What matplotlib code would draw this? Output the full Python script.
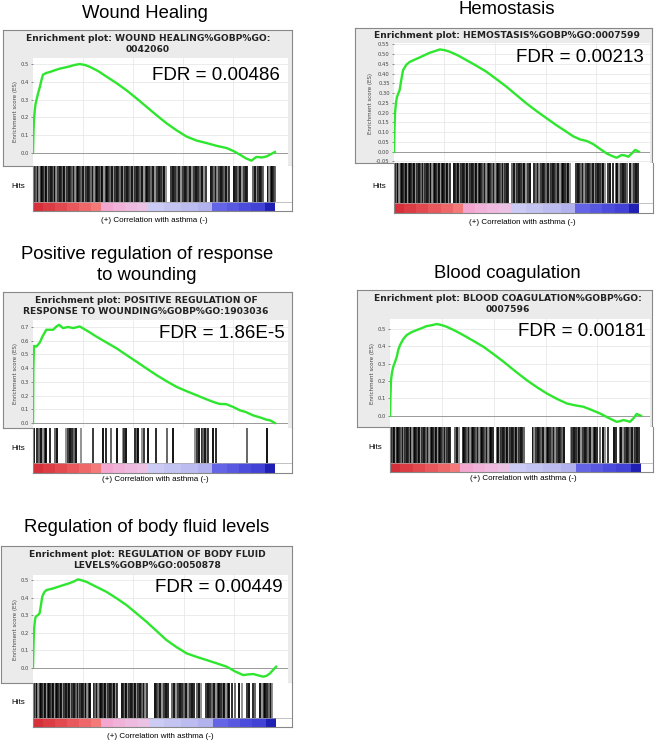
import matplotlib
matplotlib.use("Agg")
import matplotlib.pyplot as plt

W, H = 660, 742

# ---------------- data ----------------
titles = ["Wound Healing", "Hemostasis", "Positive regulation of response\nto wounding",
          "Blood coagulation", "Regulation of body fluid levels"]
plot_titles = ["Enrichment plot: WOUND HEALING%GOBP%GO:\n0042060",
               "Enrichment plot: HEMOSTASIS%GOBP%GO:0007599",
               "Enrichment plot: POSITIVE REGULATION OF\nRESPONSE TO WOUNDING%GOBP%GO:1903036",
               "Enrichment plot: BLOOD COAGULATION%GOBP%GO:\n0007596",
               "Enrichment plot: REGULATION OF BODY FLUID\nLEVELS%GOBP%GO:0050878"]
fdr_labels = ["FDR = 0.00486", "FDR = 0.00213", "FDR = 1.86E-5", "FDR = 0.00181", "FDR = 0.00449"]

# running enrichment score (rank position in per-mille of the ranked list, ES)
es1_x = [0, 2, 4, 8, 11, 20, 28, 35, 41, 55, 69, 90, 110, 130, 152, 172, 193, 214, 234, 270, 303, 345, 386, 428, 469, 510, 552, 593, 634, 676, 717, 760, 800, 830, 855, 880, 903, 915, 924, 945, 966, 985, 1000]
es1_y = [0, 0.12, 0.186, 0.25, 0.28, 0.33, 0.37, 0.41, 0.44, 0.45, 0.455, 0.465, 0.474, 0.48, 0.487, 0.495, 0.50, 0.495, 0.485, 0.46, 0.43, 0.393, 0.353, 0.307, 0.26, 0.213, 0.167, 0.128, 0.093, 0.07, 0.056, 0.04, 0.028, 0.01, -0.009, -0.03, -0.043, -0.03, -0.022, -0.025, -0.019, -0.005, 0.006]
es2_x = [0, 2, 4, 8, 12, 18, 23, 30, 37, 50, 64, 85, 105, 125, 146, 166, 187, 208, 228, 260, 296, 337, 377, 418, 459, 500, 541, 582, 623, 664, 704, 730, 759, 786, 813, 840, 868, 890, 909, 929, 945, 956, 970, 984, 1000]
es2_y = [0, 0.12, 0.196, 0.25, 0.28, 0.30, 0.316, 0.37, 0.418, 0.445, 0.46, 0.472, 0.483, 0.495, 0.507, 0.515, 0.524, 0.52, 0.512, 0.494, 0.469, 0.44, 0.41, 0.372, 0.333, 0.29, 0.247, 0.208, 0.171, 0.135, 0.102, 0.08, 0.063, 0.055, 0.039, 0.015, -0.009, -0.022, -0.031, -0.017, -0.02, -0.026, -0.01, 0.009, 0.0]
es3_x = [0, 1.4, 4, 14, 28, 39, 55, 83, 97, 108, 124, 145, 166, 193, 228, 262, 303, 345, 386, 428, 469, 510, 552, 593, 635, 676, 710, 745, 770, 800, 830, 855, 880, 910, 940, 966, 980, 1000]
es3_y = [0, 0.386, 0.562, 0.557, 0.587, 0.63, 0.68, 0.68, 0.704, 0.716, 0.692, 0.70, 0.692, 0.704, 0.668, 0.63, 0.588, 0.545, 0.496, 0.447, 0.398, 0.35, 0.305, 0.264, 0.232, 0.203, 0.178, 0.154, 0.14, 0.137, 0.115, 0.093, 0.08, 0.056, 0.04, 0.024, 0.02, 0.0]
es4_x = [0, 2, 4, 8, 13, 20, 27, 33, 40, 52, 66, 86, 106, 126, 146, 166, 186, 206, 226, 260, 292, 332, 372, 412, 452, 498, 544, 584, 624, 664, 704, 737, 770, 804, 837, 870, 903, 915, 930, 945, 956, 970, 983, 1000]
es4_y = [0, 0.12, 0.206, 0.25, 0.283, 0.31, 0.34, 0.38, 0.408, 0.44, 0.465, 0.482, 0.494, 0.505, 0.517, 0.522, 0.529, 0.523, 0.513, 0.49, 0.465, 0.432, 0.398, 0.356, 0.312, 0.258, 0.206, 0.166, 0.129, 0.098, 0.071, 0.06, 0.052, 0.033, 0.013, -0.012, -0.035, -0.032, -0.025, -0.03, -0.035, -0.015, 0.01, 0.0]
es5_x = [0, 2, 4, 8, 11, 20, 27, 33, 38, 46, 55, 82, 104, 124, 145, 165, 185, 202, 220, 260, 302, 344, 385, 426, 467, 508, 549, 590, 632, 673, 714, 756, 797, 830, 865, 885, 907, 930, 948, 962, 975, 988, 1000]
es5_y = [0, 0.13, 0.215, 0.27, 0.291, 0.30, 0.31, 0.36, 0.405, 0.43, 0.443, 0.452, 0.462, 0.471, 0.48, 0.49, 0.504, 0.498, 0.49, 0.462, 0.433, 0.396, 0.357, 0.31, 0.262, 0.21, 0.158, 0.118, 0.082, 0.062, 0.044, 0.025, 0.006, -0.02, -0.042, -0.038, -0.036, -0.045, -0.051, -0.045, -0.032, -0.012, 0.006]

# gene-set hit positions (per-mille of ranked list)
hits1 = [2,8,13,19,25,31,36,42,49,55,60,67,73,79,86,91,97,104,111,117,123,130,136,142,149,155,161,168,174,180,
         187,194,200,206,213,220,226,233,240,246,252,259,266,272,279,286,293,300,306,313,320,326,333,340,347,353,
         360,367,374,381,388,395,402,409,416,423,430,437,444,451,458,466,473,480,488,495,503,511,519,527,535,543,
         551,570,578,586,594,602,610,618,626,634,642,650,658,666,674,682,690,698,706,714,734,741,748,755,762,769,
         776,783,790,797,804,811,832,840,848,856,864,872,880,886,910,917,924,931,938,945,952,970,976,982,988,994,999]
hits2 = [1,6,11,17,22,28,33,39,44,50,56,61,67,72,78,83,89,95,100,106,111,117,122,128,134,139,145,150,156,162,167,
         173,178,184,190,195,201,206,212,218,223,229,245,251,257,263,269,275,281,287,293,299,305,311,317,323,329,
         335,341,347,353,359,365,371,377,383,389,395,401,407,413,419,425,431,437,443,449,455,461,467,483,490,497,
         504,511,518,525,532,539,546,553,572,579,586,593,600,607,614,621,628,635,642,649,656,663,670,677,684,691,
         698,705,712,719,742,749,756,763,770,777,784,791,798,805,812,819,826,833,840,847,852,862,872,882,895,905,
         912,920,928,936,944,952,962,970,978,986,994]
hits3 = [4,17,25,34,41,48,55,69,90,99,138,145,154,163,168,179,200,248,290,301,324,345,370,375,386,421,428,434,452,
         458,476,510,552,579,669,676,687,697,703,710,717,724,742,756,883,966]
hits4 = [1,6,11,17,22,28,33,39,44,50,56,61,67,72,78,83,89,95,100,106,111,117,122,128,134,139,145,150,156,162,167,
         173,178,184,190,195,201,206,212,218,223,229,235,241,258,266,274,290,296,302,308,314,320,326,332,338,344,
         350,356,362,368,374,380,386,392,398,404,410,425,431,437,443,449,455,461,467,473,479,485,491,497,503,509,
         515,521,527,533,568,575,582,589,596,603,610,617,624,631,638,645,652,659,666,673,680,687,694,720,727,734,
         741,748,755,762,769,776,783,790,797,804,811,818,825,838,848,858,868,892,902,915,922,929,936,943,950,957,
         964,971,978,985,992]
hits5 = [1,6,11,17,22,28,33,39,44,50,56,61,67,72,78,83,89,95,100,106,111,117,122,128,134,139,145,150,156,162,167,
         173,178,184,190,195,201,206,212,218,223,229,235,250,256,262,268,274,280,286,292,298,304,310,316,322,328,
         334,340,346,366,372,378,384,390,396,402,408,414,420,426,432,438,444,450,456,462,468,500,508,516,524,532,
         540,548,556,572,580,588,596,604,612,620,628,636,644,652,660,676,684,692,710,718,726,734,745,752,759,766,
         773,780,787,794,801,808,820,830,848,858,878,888,904,912,935,942,949,956,963,970,977,984]

# ranked-list colour bar segments (per-mille boundaries)
bar_bounds = [0, 40, 90, 140, 190, 240, 280, 330, 380, 430, 477, 540, 610, 680, 740, 800, 850, 900, 960, 1000]
bar_colors = ['#d6303a', '#dc3c44', '#e24a50', '#e8585c', '#ee686a', '#f47a7a',
              '#f2a6d0', '#f0b2d8', '#efbadf', '#ecc2e4',
              '#cbcbf5', '#c4c4f2', '#bcbcf0', '#b2b2ee',
              '#6464e6', '#5858e0', '#4c4cdc', '#4242d6', '#2020b4']

es_x = [es1_x, es2_x, es3_x, es4_x, es5_x]
es_y = [es1_y, es2_y, es3_y, es4_y, es5_y]
hits = [hits1, hits2, hits3, hits4, hits5]
yticks = [[0, 0.1, 0.2, 0.3, 0.4, 0.5],
          [-0.05, 0, 0.05, 0.1, 0.15, 0.2, 0.25, 0.3, 0.35, 0.4, 0.45, 0.5, 0.55],
          [0, 0.1, 0.2, 0.3, 0.4, 0.5, 0.6, 0.7],
          [0, 0.1, 0.2, 0.3, 0.4, 0.5],
          [0, 0.1, 0.2, 0.3, 0.4, 0.5]]
ytick_fmt = ["{:.1f}", "{:.2f}", "{:.1f}", "{:.1f}", "{:.1f}"]

# ---------------- layout (pixels) ----------------
layout = [
    dict(title=(145, 13), box=(3, 30, 292, 166), ptitle=(148, 44), es=(33, 58, 288, 166), ylim=(-0.073, 0.534),
         hits=(33, 166, 292, 211), cbfrac=0.2, xmax=(1054, 1070), xlab=(154, 220), fdr=(280, 75)),
    dict(title=(507, 9), box=(355, 28, 652, 163), ptitle=(507, 35), es=(394, 43, 650, 163), ylim=(-0.058, 0.557),
         hits=(394, 163, 653, 213), cbfrac=0.2, xmax=(1045, 1057), xlab=(522, 222), fdr=(644, 58)),
    dict(title=(147, 265), box=(3, 292, 292, 428), ptitle=(146, 306), es=(33, 320, 288, 428), ylim=(-0.036, 0.751),
         hits=(33, 428, 292, 473), cbfrac=0.22, xmax=(1054, 1070), xlab=(155, 480), fdr=(285, 334)),
    dict(title=(507, 273), box=(357, 290, 652, 427), ptitle=(508, 304), es=(390, 319, 650, 427), ylim=(-0.065, 0.558),
         hits=(390, 427, 653, 472), cbfrac=0.2, xmax=(1036, 1048), xlab=(523, 479), fdr=(646, 332)),
    dict(title=(147, 528), box=(1, 546, 292, 683), ptitle=(147, 560), es=(33, 575, 288, 683), ylim=(-0.087, 0.529),
         hits=(33, 683, 292, 727), cbfrac=0.2, xmax=(1049, 1065), xlab=(160, 737), fdr=(283, 588)),
]

fig = plt.figure(figsize=(W / 100, H / 100), dpi=100)
fig.patch.set_facecolor('white')


def rect(x0, y0, x1, y1):
    return [x0 / W, 1 - y1 / H, (x1 - x0) / W, (y1 - y0) / H]


hit_greys = ['#000000', '#1a1a1a', '#5a5a5a', '#000000', '#8a8a8a', '#2a2a2a']

for i, L in enumerate(layout):
    # big title
    fig.text(L['title'][0] / W, 1 - L['title'][1] / H, titles[i], ha='center', va='center',
             fontsize=13.3, family='Liberation Sans', linespacing=1.3)
    # grey box
    bx = fig.add_axes(rect(*L['box']))
    bx.set_facecolor('#ebebeb')
    bx.set_xticks([]); bx.set_yticks([])
    for s in bx.spines.values():
        s.set_color('#888888'); s.set_linewidth(0.8)
    fig.text(L['ptitle'][0] / W, 1 - L['ptitle'][1] / H, plot_titles[i], ha='center', va='center',
             fontsize=6.6, fontweight='bold', family='DejaVu Sans', color='#222222', linespacing=1.25)
    # ES axes
    ax = fig.add_axes(rect(*L['es']))
    ax.set_facecolor('white')
    ax.set_xlim(0, L['xmax'][0])
    ax.set_ylim(*L['ylim'])
    for gx in [206, 413, 620, 826]:
        ax.axvline(gx, color='#e4e4e4', lw=0.5, zorder=0)
    for t in yticks[i]:
        ax.axhline(t, color='#e4e4e4', lw=0.5, zorder=0)
    ax.axhline(0, color='#9a9a9a', lw=0.7, zorder=1)
    ax.plot(es_x[i], es_y[i], color='#2ee62e', lw=1.7, zorder=3, solid_joinstyle='round')
    ax.set_xticks([])
    ax.set_yticks(yticks[i])
    ax.set_yticklabels([ytick_fmt[i].format(t) for t in yticks[i]], fontsize=3.8, color='#444444')
    ax.tick_params(axis='y', length=1.5, width=0.4, pad=1.5, colors='#444444')
    for s in ax.spines.values():
        s.set_visible(False)
    ax.set_ylabel("Enrichment score (ES)", fontsize=4.0, color='#444444', labelpad=2)
    ax.text(L['fdr'][0] / W, 1 - L['fdr'][1] / H, fdr_labels[i], transform=fig.transFigure,
            ha='right', va='center', fontsize=13.5, family='Liberation Sans')
    # hits axes
    hx = fig.add_axes(rect(*L['hits']))
    hx.set_xlim(0, L['xmax'][1])
    hx.set_ylim(0, 1)
    cb = L['cbfrac']
    for k, h in enumerate(hits[i]):
        hx.vlines(h, cb, 1, color=hit_greys[k % len(hit_greys)], lw=1.3)
    lefts = bar_bounds[:-1]
    widths = [b - a for a, b in zip(bar_bounds[:-1], bar_bounds[1:])]
    hx.bar(lefts, [cb] * len(lefts), width=widths, bottom=0, align='edge', color=bar_colors, linewidth=0)
    hx.axhline(cb, color='#aaaaaa', lw=0.5)
    hx.set_xticks([]); hx.set_yticks([])
    for s in hx.spines.values():
        s.set_color('#888888'); s.set_linewidth(0.8)
    hx.spines['top'].set_visible(False)
    hy = (L['hits'][1] + L['hits'][3]) / 2 - 2
    fig.text((L['hits'][0] - 8) / W, 1 - hy / H, "Hits", ha='right', va='center', fontsize=5.8,
             family='Liberation Sans')
    fig.text(L['xlab'][0] / W, 1 - L['xlab'][1] / H, "(+) Correlation with asthma (-)", ha='center',
             va='center', fontsize=5.8, family='Liberation Sans')

fig.savefig('out.png', dpi=100)
